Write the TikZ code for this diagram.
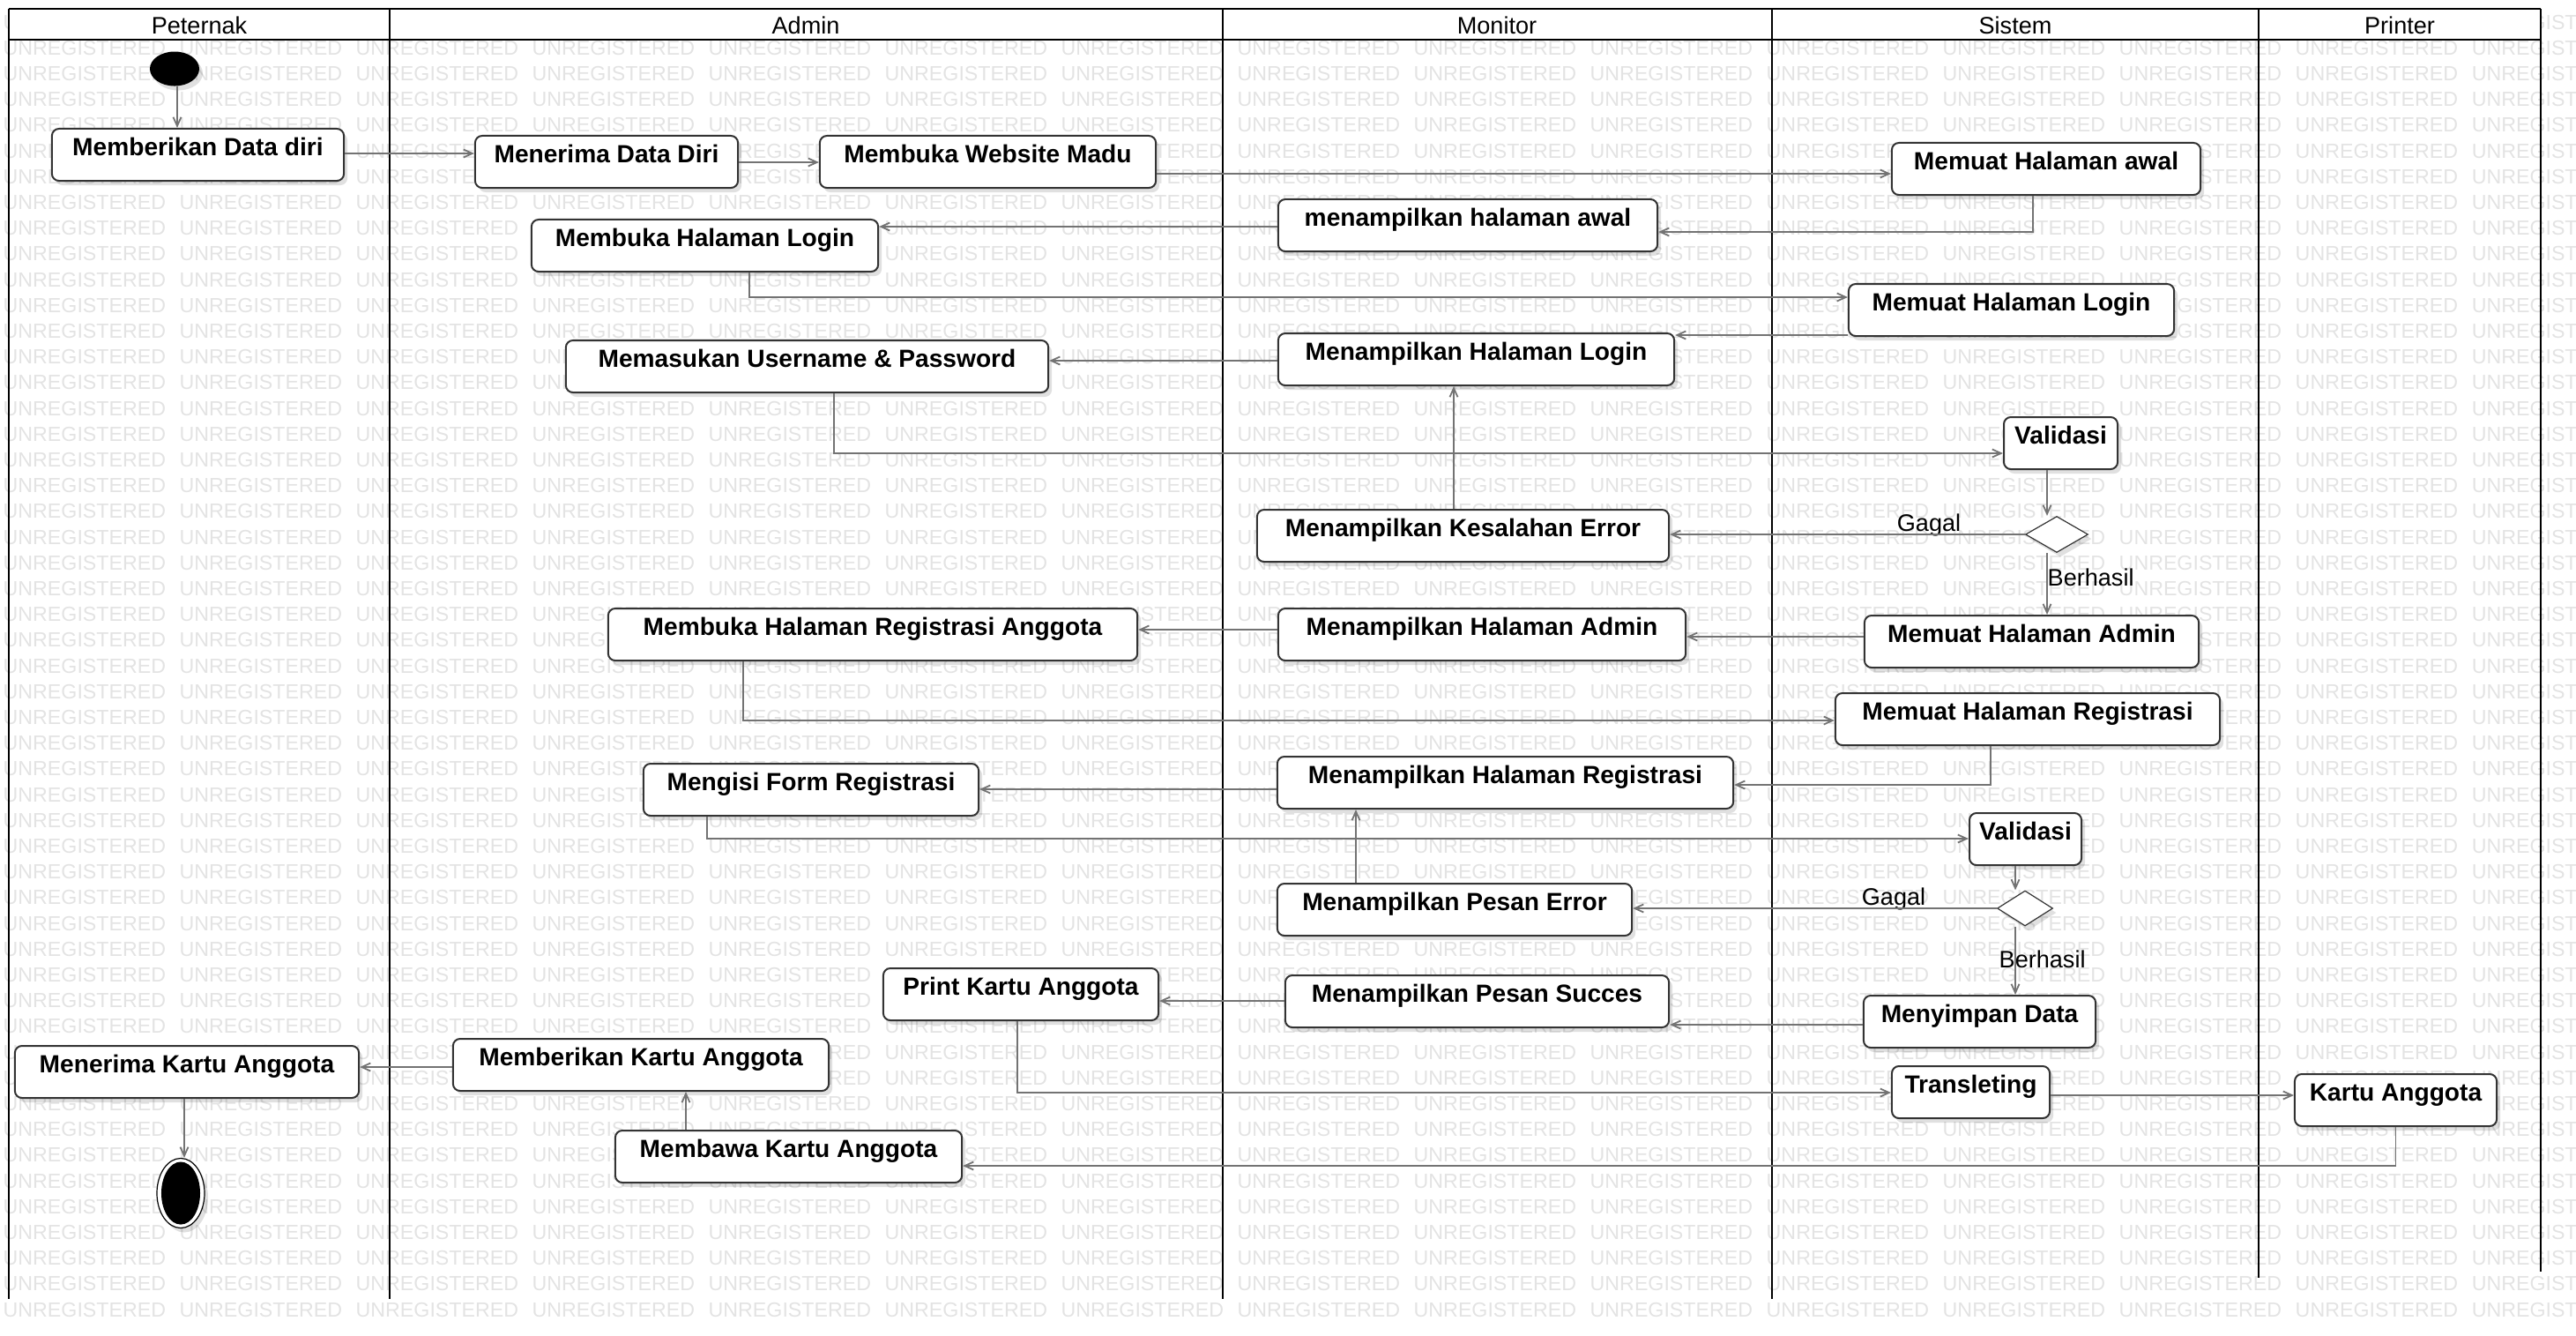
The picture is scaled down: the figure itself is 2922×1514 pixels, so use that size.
\documentclass[tikz,border=0pt]{standalone}
\usepackage{fontspec}
\setmainfont{Liberation Sans}
\usepackage{tikz}
\usetikzlibrary{calc,shapes.geometric,arrows.meta,shadows}

\tikzset{
  lane/.style={line width=0.02cm, black},
  lanename/.style={anchor=base, inner sep=0, font=\fontsize{7.7}{9}\selectfont},
  wmtext/.style={anchor=base west, inner sep=0, text=black!11, font=\fontsize{6.6}{8}\selectfont},
  softshadow/.style={drop shadow={shadow xshift=0.04cm, shadow yshift=-0.05cm, opacity=0.12, fill=black}},
  act/.style={draw=black!80, line width=0.02cm, fill=white, rounded corners=0.08cm,
    inner sep=0, text height=0.30cm, text depth=0.29cm,
    font=\fontsize{8}{9.6}\selectfont\bfseries, softshadow},
  decision/.style={diamond, draw=black!80, line width=0.012cm, fill=white, inner sep=0, softshadow},
  flow/.style={draw=black!55, line width=0.018cm, -{Straight Barb[length=0.1cm, width=0.09cm]}},
  guard/.style={anchor=base, inner sep=0, font=\fontsize{7.7}{9}\selectfont},
}

\begin{document}
\begin{tikzpicture}[x=0.01cm, y=-0.01cm]
  \useasboundingbox (0,0) rectangle (2922,1514);

  % watermark
  \begin{scope}
    \clip (0,0) rectangle (2922,1514);
    \foreach \r in {0,...,50}{
      \foreach \c in {0,...,13}
        \node[wmtext] at ({3+200*\c},{33+29.2*\r}) {UNREGISTERED};
      \node[wmtext] at (2803,{33+29.2*\r}) {UNREGIST};
    }
  \end{scope}

  % swimlanes
  \fill[white] (10,10) rectangle (2882,45);
  \draw[lane] (10,10) -- (2882,10);
  \draw[lane] (10,45) -- (2882,45);
  \draw[lane] (10,10) -- (10,1473);
  \draw[lane] (441.5,10) -- (441.5,1473);
  \draw[lane] (1386.5,10) -- (1386.5,1473);
  \draw[lane] (2009.5,10) -- (2009.5,1473);
  \draw[lane] (2562,10) -- (2562,1449);
  \draw[lane] (2882,10) -- (2882,1442);

  % lane names
  \node[lanename] (hPeternak) at (226,38) {Peternak};
  \node[lanename] (hAdmin) at (914,38) {Admin};
  \node[lanename] (hMonitor) at (1698,38) {Monitor};
  \node[lanename] (hSistem) at (2286,38) {Sistem};
  \node[lanename] (hPrinter) at (2722,38) {Printer};

  % start and end
  \node[ellipse, fill=black, minimum width=0.56cm, minimum height=0.39cm, inner sep=0, softshadow] (init) at (198,78) {};
  \node[ellipse, draw=black, line width=0.012cm, fill=white, minimum width=0.54cm, minimum height=0.79cm, inner sep=0, softshadow] (final) at (205,1353) {};
  \fill[black] (final.center) ellipse [x radius=0.22cm, y radius=0.355cm];

  % activities
  \node[act, minimum width=3.31cm] (memberikanData) at (224.5,175.5) {Memberikan Data diri};
  \node[act, minimum width=2.98cm] (menerimaData) at (688,183.5) {Menerima Data Diri};
  \node[act, minimum width=3.81cm] (bukaWebsite) at (1120.5,183.5) {Membuka Website Madu};
  \node[act, minimum width=3.50cm] (muatAwal) at (2321,191.5) {Memuat Halaman awal};
  \node[act, minimum width=4.30cm] (tampilAwal) at (1665,255.5) {menampilkan halaman awal};
  \node[act, minimum width=3.93cm] (bukaLogin) at (799.5,278.5) {Membuka Halaman Login};
  \node[act, minimum width=3.69cm] (muatLogin) at (2281.5,351.5) {Memuat Halaman Login};
  \node[act, minimum width=4.49cm] (tampilLogin) at (1674.5,407.5) {Menampilkan Halaman Login};
  \node[act, minimum width=5.47cm] (masukUser) at (915.5,415.5) {Memasukan Username \& Password};
  \node[act, minimum width=1.29cm] (validasiA) at (2337.5,502.5) {Validasi};
  \node[decision, minimum width=0.71cm, minimum height=0.41cm] (decA) at (2333,606) {};
  \node[act, minimum width=4.67cm] (kesalahan) at (1659.5,607.5) {Menampilkan Kesalahan Error};
  \node[act, minimum width=3.79cm] (muatAdmin) at (2304.5,727.5) {Memuat Halaman Admin};
  \node[act, minimum width=4.62cm] (tampilAdmin) at (1681,719.5) {Menampilkan Halaman Admin};
  \node[act, minimum width=6.00cm] (bukaReg) at (990,719.5) {Membuka Halaman Registrasi Anggota};
  \node[act, minimum width=4.36cm] (muatReg) at (2300,815.5) {Memuat Halaman Registrasi};
  \node[act, minimum width=5.17cm] (tampilReg) at (1707.5,887.5) {Menampilkan Halaman Registrasi};
  \node[act, minimum width=3.80cm] (isiForm) at (920,895.5) {Mengisi Form Registrasi};
  \node[act, minimum width=1.27cm] (validasiB) at (2297.5,951.5) {Validasi};
  \node[decision, minimum width=0.63cm, minimum height=0.40cm] (decB) at (2297,1030) {};
  \node[act, minimum width=4.02cm] (pesanError) at (1650,1031.5) {Menampilkan Pesan Error};
  \node[act, minimum width=2.63cm] (menyimpan) at (2245.5,1158.5) {Menyimpan Data};
  \node[act, minimum width=4.35cm] (pesanSucces) at (1675.5,1135.5) {Menampilkan Pesan Succes};
  \node[act, minimum width=3.12cm] (printKartu) at (1158,1127.5) {Print Kartu Anggota};
  \node[act, minimum width=1.79cm] (transleting) at (2235.5,1238.5) {Transleting};
  \node[act, minimum width=2.29cm] (kartuAnggota) at (2717.5,1247.5) {Kartu Anggota};
  \node[act, minimum width=3.93cm] (membawa) at (894.5,1311.5) {Membawa Kartu Anggota};
  \node[act, minimum width=4.26cm] (memberikanKartu) at (727,1207.5) {Memberikan Kartu Anggota};
  \node[act, minimum width=3.90cm] (menerimaKartu) at (212,1215.5) {Menerima Kartu Anggota};

  % guards
  \node[guard] (gagalA) at (2188,602) {Gagal};
  \node[guard, anchor=base west] (berhasilA) at (2322,664) {Berhasil};
  \node[guard] (gagalB) at (2148,1026) {Gagal};
  \node[guard, anchor=base west] (berhasilB) at (2267,1097) {Berhasil};

  % transitions
  \draw[flow] (init.south -| 201,0) -- (memberikanData.north -| 201,0);
  \draw[flow] (memberikanData.east |- 0,174) -- (menerimaData.west |- 0,174);
  \draw[flow] (menerimaData.east |- 0,184) -- (bukaWebsite.west |- 0,184);
  \draw[flow] (bukaWebsite.east |- 0,197) -- (muatAwal.west |- 0,197);
  \draw[flow] (muatAwal.south -| 2306,0) |- (tampilAwal.east |- 0,263);
  \draw[flow] (tampilAwal.west |- 0,257) -- (bukaLogin.east |- 0,257);
  \draw[flow] (bukaLogin.south -| 850,0) |- (muatLogin.west |- 0,337);
  \draw[flow] (muatLogin.west |- 0,380) -- (tampilLogin.east |- 0,380);
  \draw[flow] (tampilLogin.west |- 0,409) -- (masukUser.east |- 0,409);
  \draw[flow] (masukUser.south -| 946,0) |- (validasiA.west |- 0,514);
  \draw[flow] (validasiA.south -| 2322,0) -- (decA.north -| 2322,0);
  \draw[flow] (decA.west) -- (decA.west -| kesalahan.east);
  \draw[flow] (kesalahan.north -| 1649,0) -- (tampilLogin.south -| 1649,0);
  \draw[flow] (decA.south -| 2322,0) -- (muatAdmin.north -| 2322,0);
  \draw[flow] (muatAdmin.west |- 0,722) -- (tampilAdmin.east |- 0,722);
  \draw[flow] (tampilAdmin.west |- 0,714) -- (bukaReg.east |- 0,714);
  \draw[flow] (bukaReg.south -| 843,0) |- (muatReg.west |- 0,817);
  \draw[flow] (muatReg.south -| 2258,0) |- (tampilReg.east |- 0,890);
  \draw[flow] (tampilReg.west |- 0,895) -- (isiForm.east |- 0,895);
  \draw[flow] (isiForm.south -| 802,0) |- (validasiB.west |- 0,951);
  \draw[flow] (validasiB.south -| 2286,0) -- (decB.north -| 2286,0);
  \draw[flow] (decB.west) -- (decB.west -| pesanError.east);
  \draw[flow] (pesanError.north -| 1538,0) -- (tampilReg.south -| 1538,0);
  \draw[flow] (decB.south -| 2286,0) -- (menyimpan.north -| 2286,0);
  \draw[flow] (menyimpan.west |- 0,1162) -- (pesanSucces.east |- 0,1162);
  \draw[flow] (pesanSucces.west |- 0,1135) -- (printKartu.east |- 0,1135);
  \draw[flow] (printKartu.south -| 1154,0) |- (transleting.west |- 0,1239);
  \draw[flow] (transleting.east |- 0,1242) -- (kartuAnggota.west |- 0,1242);
  \draw[flow] (kartuAnggota.south) |- (membawa.east |- 0,1322);
  \draw[flow] (membawa.north -| 778,0) -- (memberikanKartu.south -| 778,0);
  \draw[flow] (memberikanKartu.west |- 0,1210) -- (menerimaKartu.east |- 0,1210);
  \draw[flow] (menerimaKartu.south -| 209,0) -- (final.north -| 209,0);
\end{tikzpicture}
\end{document}
